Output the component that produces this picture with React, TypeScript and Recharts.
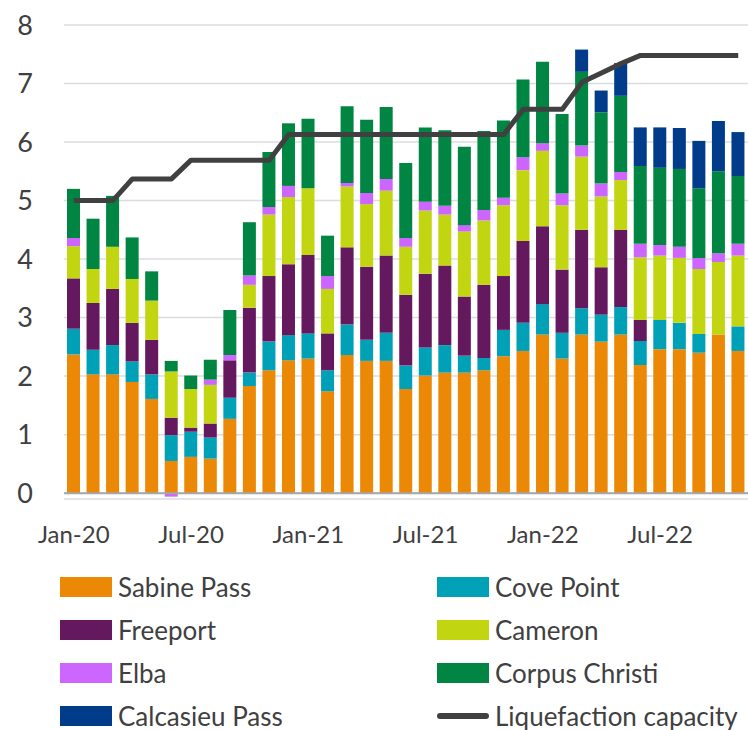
import { ComposedChart, Bar, Line, XAxis, YAxis, CartesianGrid, ReferenceLine } from 'recharts'

const months = [
  'Jan-20', 'Feb-20', 'Mar-20', 'Apr-20', 'May-20', 'Jun-20', 'Jul-20', 'Aug-20', 'Sep-20', 'Oct-20', 'Nov-20', 'Dec-20',
  'Jan-21', 'Feb-21', 'Mar-21', 'Apr-21', 'May-21', 'Jun-21', 'Jul-21', 'Aug-21', 'Sep-21', 'Oct-21', 'Nov-21', 'Dec-21',
  'Jan-22', 'Feb-22', 'Mar-22', 'Apr-22', 'May-22', 'Jun-22', 'Jul-22', 'Aug-22', 'Sep-22', 'Oct-22', 'Nov-22',
]

const sabinePass = [
  2.37, 2.03, 2.03, 1.9, 1.61, 0.55, 0.62, 0.59, 1.27, 1.83, 2.1, 2.27,
  2.3, 1.74, 2.36, 2.26, 2.26, 1.78, 2.01, 2.06, 2.06, 2.1, 2.34, 2.43,
  2.71, 2.3, 2.71, 2.59, 2.71, 2.19, 2.46, 2.46, 2.4, 2.71, 2.43,
]
const covePoint = [
  0.44, 0.42, 0.5, 0.35, 0.42, 0.44, 0.43, 0.36, 0.36, 0.23, 0.49, 0.43,
  0.43, 0.36, 0.52, 0.36, 0.48, 0.4, 0.48, 0.47, 0.29, 0.21, 0.45, 0.48,
  0.52, 0.44, 0.45, 0.46, 0.47, 0.41, 0.5, 0.45, 0.32, 0, 0.42,
]
const freeport = [
  0.86, 0.8, 0.96, 0.66, 0.59, 0.3, 0.07, 0.24, 0.64, 1.11, 1.12, 1.21,
  1.34, 0.63, 1.32, 1.25, 1.32, 1.21, 1.26, 1.36, 1.01, 1.25, 0.92, 1.4,
  1.33, 1.08, 1.34, 0.81, 1.32, 0.36, 0, 0, 0, 0, 0,
]
const cameron = [
  0.55, 0.58, 0.72, 0.75, 0.67, 0.79, 0.66, 0.66, 0, 0.39, 1.05, 1.15,
  1.14, 0.76, 1.04, 1.07, 1.11, 0.82, 1.08, 0.87, 1.11, 1.1, 1.21, 1.21,
  1.29, 1.1, 1.25, 1.21, 0.85, 1.07, 1.1, 1.11, 1.11, 1.24, 1.21,
]
const elba = [
  0.14, 0, 0, 0, 0, -0.06, 0, 0.09, 0.09, 0.16, 0.13, 0.19,
  0, 0.22, 0.06, 0.19, 0.2, 0.15, 0.15, 0.15, 0.11, 0.18, 0.13, 0.22,
  0.13, 0.2, 0.19, 0.22, 0.14, 0.23, 0.18, 0.19, 0.19, 0.15, 0.2,
]
const corpusChristi = [
  0.84, 0.86, 0.87, 0.71, 0.5, 0.18, 0.23, 0.34, 0.77, 0.91, 0.94, 1.07,
  1.19, 0.69, 1.31, 1.25, 1.23, 1.28, 1.27, 1.29, 1.34, 1.35, 1.32, 1.33,
  1.39, 1.36, 1.26, 1.22, 1.3, 1.33, 1.32, 1.33, 1.19, 1.4, 1.16,
]
const calcasieuPass = [
  0, 0, 0, 0, 0, 0, 0, 0, 0, 0, 0, 0,
  0, 0, 0, 0, 0, 0, 0, 0, 0, 0, 0, 0,
  0, 0, 0.38, 0.37, 0.56, 0.66, 0.69, 0.7, 0.81, 0.86, 0.75,
]
const capacity = [
  5.0, 5.0, 5.0, 5.37, 5.37, 5.37, 5.69, 5.69, 5.69, 5.69, 5.69, 6.13,
  6.13, 6.13, 6.13, 6.13, 6.13, 6.13, 6.13, 6.13, 6.13, 6.13, 6.13, 6.56,
  6.56, 6.56, 7.02, 7.18, 7.34, 7.48, 7.48, 7.48, 7.48, 7.48, 7.48,
]

const yTicks = [0, 1, 2, 3, 4, 5, 6, 7, 8]

const series = [
  { key: 'sabinePass', name: 'Sabine Pass', color: '#EB8805' },
  { key: 'covePoint', name: 'Cove Point', color: '#00A0B6' },
  { key: 'freeport', name: 'Freeport', color: '#64195F' },
  { key: 'cameron', name: 'Cameron', color: '#C1D610' },
  { key: 'elba', name: 'Elba', color: '#CC66FF' },
  { key: 'corpusChristi', name: 'Corpus Christi', color: '#008542' },
  { key: 'calcasieuPass', name: 'Calcasieu Pass', color: '#003C8A' },
]

const data = months.map((month, i) => ({
  month,
  sabinePass: sabinePass[i],
  covePoint: covePoint[i],
  freeport: freeport[i],
  cameron: cameron[i],
  elba: elba[i],
  corpusChristi: corpusChristi[i],
  calcasieuPass: calcasieuPass[i],
  capacity: capacity[i],
}))

const TEXT = '#404040'
const FONT = 'Lato, "DejaVu Sans", sans-serif'

// legend laid out like the original: two columns, four rows
const legendRows = [
  ['sabinePass', 'covePoint'],
  ['freeport', 'cameron'],
  ['elba', 'corpusChristi'],
  ['calcasieuPass', 'capacity'],
]

function LegendItem({ id }: { id: string }) {
  const s = series.find((x) => x.key === id)
  const swatch = s ? (
    <div style={{ width: 52, height: 20, background: s.color }} />
  ) : (
    <div style={{ width: 52, height: 20, display: 'flex', alignItems: 'center' }}>
      <div style={{ width: 52, height: 6, borderRadius: 3, background: TEXT }} />
    </div>
  )
  return (
    <div style={{ display: 'flex', alignItems: 'center', height: 43 }}>
      {swatch}
      <span style={{ marginLeft: 6, fontSize: 26, color: TEXT, whiteSpace: 'nowrap' }}>
        {s ? s.name : 'Liquefaction capacity'}
      </span>
    </div>
  )
}

export default function App() {
  return (
    <div style={{ position: 'absolute', left: 0, top: 0, width: 748, height: 730, background: '#fff', fontFamily: FONT }}>
      <ComposedChart
        width={748}
        height={560}
        data={data}
        stackOffset="sign"
        margin={{ top: 25, right: 0, left: 14, bottom: 31 }}
      >
        <CartesianGrid vertical={false} stroke="#DCDCDC" strokeWidth={1.5} />
        <XAxis
          dataKey="month"
          interval={5}
          axisLine={false}
          tickLine={false}
          tickSize={0}
          tickMargin={27}
          height={30}
          tick={{ fill: TEXT, fontSize: 24, fontFamily: FONT }}
        />
        <YAxis
          type="number"
          domain={[-0.1, 8]}
          ticks={yTicks}
          width={50}
          axisLine={false}
          tickLine={false}
          tickSize={0}
          tickMargin={31}
          tick={{ fill: TEXT, fontSize: 27, fontFamily: FONT }}
        />
        {series.map((s) => (
          <Bar key={s.key} dataKey={s.key} name={s.name} stackId="a" fill={s.color} barSize={13} isAnimationActive={false} />
        ))}
        <ReferenceLine y={0} stroke="#A6A6A6" strokeWidth={2} />
        <Line
          type="linear"
          dataKey="capacity"
          name="Liquefaction capacity"
          stroke={TEXT}
          strokeWidth={5}
          dot={false}
          strokeLinejoin="round"
          isAnimationActive={false}
        />
      </ComposedChart>
      <div style={{ position: 'absolute', top: 565, left: 60, width: 688 }}>
        {legendRows.map((row, i) => (
          <div key={i} style={{ display: 'flex' }}>
            <div style={{ width: 377 }}>
              <LegendItem id={row[0]} />
            </div>
            <LegendItem id={row[1]} />
          </div>
        ))}
      </div>
    </div>
  )
}
